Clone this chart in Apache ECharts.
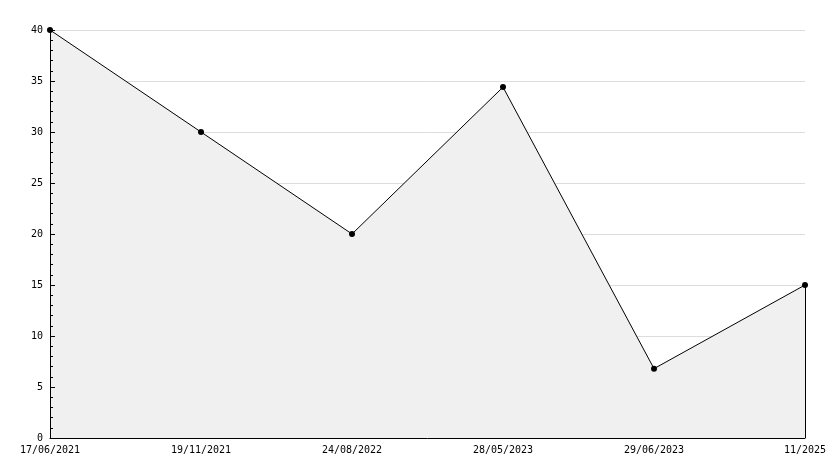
<!DOCTYPE html>
<html>
<head>
<meta charset="utf-8">
<script src="https://cdn.jsdelivr.net/npm/echarts@6/dist/echarts.min.js"></script>
<style>html,body{margin:0;padding:0;background:#fff}#c{width:834px;height:468px}</style>
</head>
<body>
<div id="c"></div>
<script>
var categories = ['17/06/2021', '19/11/2021', '24/08/2022', '28/05/2023', '29/06/2023', '11/2025'];
var values = [40, 30, 20, 34.4, 6.8, 15];
var yTicks = { min: 0, max: 40, interval: 5 };

var lastCat = categories[categories.length - 1];
var lastVal = values[values.length - 1];
var font = 'DejaVu Sans Mono';
var chart = echarts.init(document.getElementById('c'), null, { renderer: 'canvas' });
chart.setOption({
  animation: false,
  backgroundColor: '#ffffff',
  grid: { left: 50, right: 29, top: 30, bottom: 30, containLabel: false },
  xAxis: {
    type: 'category',
    data: categories,
    boundaryGap: false,
    z: 10,
    axisLine: { show: true, lineStyle: { color: '#000', width: 1 } },
    axisTick: { show: false },
    axisLabel: { color: '#000', fontFamily: font, fontSize: 10, margin: 7, interval: 0 },
    splitLine: { show: false }
  },
  yAxis: [{
    type: 'value',
    min: yTicks.min, max: yTicks.max, interval: yTicks.interval,
    axisLine: { show: false },
    axisTick: { show: false },
    axisLabel: { show: false },
    splitLine: { show: true, lineStyle: { color: '#dddddd', width: 1 } }
  }, {
    type: 'value',
    position: 'left',
    min: yTicks.min, max: yTicks.max, interval: yTicks.interval,
    z: 10,
    axisLine: { show: true, lineStyle: { color: '#000', width: 1 } },
    axisTick: { show: true, inside: true, length: 5, lineStyle: { color: '#000' } },
    minorTick: { show: true, splitNumber: 5, length: 3, lineStyle: { color: '#000' } },
    axisLabel: { color: '#000', fontFamily: font, fontSize: 10, margin: 7 },
    splitLine: { show: false },
    minorSplitLine: { show: false }
  }],
  series: [{
    type: 'line',
    yAxisIndex: 0,
    data: values,
    symbol: 'circle',
    symbolSize: 6,
    itemStyle: { color: '#000' },
    lineStyle: { color: '#000', width: 1 },
    areaStyle: { color: '#f0f0f0', opacity: 1 },
    markLine: {
      silent: true,
      symbol: 'none',
      label: { show: false },
      lineStyle: { color: '#000', width: 1, type: 'solid' },
      data: [[{ coord: [lastCat, 0] }, { coord: [lastCat, lastVal] }]]
    }
  }]
});
</script>
</body>
</html>
